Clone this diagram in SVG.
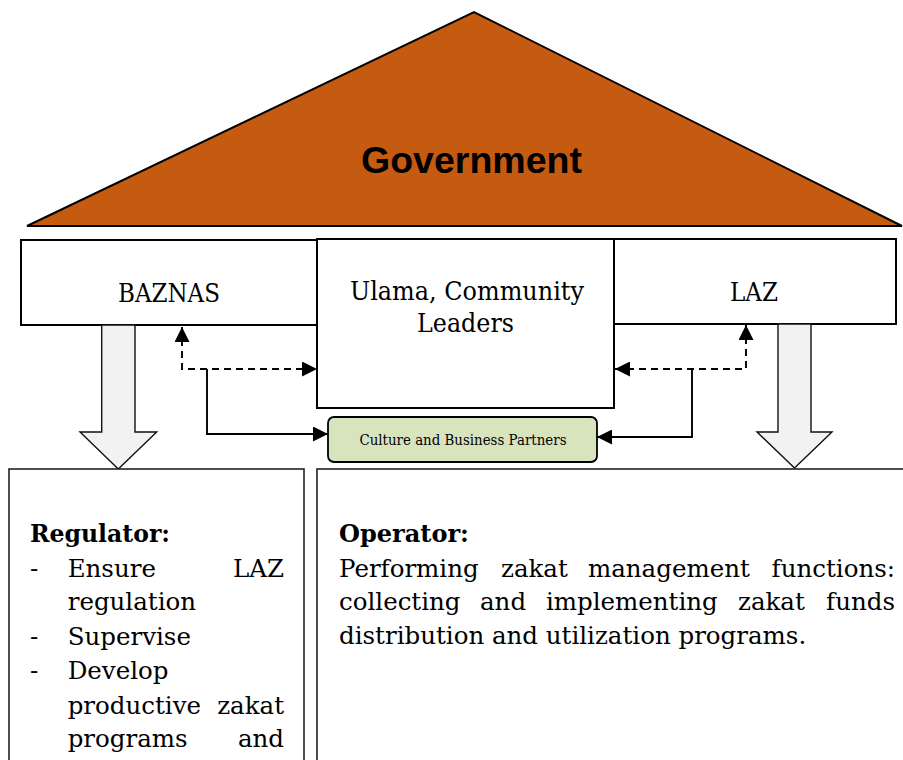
<svg xmlns="http://www.w3.org/2000/svg" width="903" height="760" viewBox="0 0 903 760">
<style>
.box{fill:#ffffff;stroke:#000000;stroke-width:2}
.pane{fill:#ffffff;stroke:#222222;stroke-width:1.6}
.blk{fill:#f2f2f2;stroke:#111111;stroke-width:1.4;stroke-linejoin:miter}
.hd{font-family:"DejaVu Serif","Liberation Serif",serif;font-size:26.5px;fill:#000}
.tx{font-family:"DejaVu Serif","Liberation Serif",serif;font-size:24.5px;fill:#000}
.bd{font-family:"DejaVu Serif","Liberation Serif",serif;font-size:24.5px;font-weight:bold;fill:#000}
.con{fill:none;stroke:#000;stroke-width:1.9}
.dash{stroke-dasharray:7,5}
</style>
<defs>
<marker id="ah" viewBox="0 0 15 15" refX="15" refY="7.5" markerWidth="15" markerHeight="15" markerUnits="userSpaceOnUse" orient="auto-start-reverse">
<path d="M0,0 L15,7.5 L0,15 z" fill="#000"/>
</marker>
</defs>

<g id="government">
<polygon points="27,226 474,12 902,226" fill="#c55a11" stroke="#000" stroke-width="2" stroke-linejoin="miter"/>
<text x="471.5" y="173" text-anchor="middle" font-family="Liberation Sans, Arial, sans-serif" font-weight="bold" font-size="36" textLength="221" lengthAdjust="spacingAndGlyphs">Government</text>
</g>

<g id="baznas">
<rect class="box" x="21" y="240" width="296" height="85"/>
<text class="hd" x="169" y="302" text-anchor="middle" textLength="102" lengthAdjust="spacingAndGlyphs">BAZNAS</text>
</g>

<g id="laz">
<rect class="box" x="614" y="239" width="282" height="85"/>
<text class="hd" x="754" y="301" text-anchor="middle" textLength="48" lengthAdjust="spacingAndGlyphs">LAZ</text>
</g>

<g id="ulama">
<rect class="box" x="317" y="239" width="297" height="169"/>
<text class="hd" x="467" y="300" text-anchor="middle" textLength="234" lengthAdjust="spacingAndGlyphs">Ulama, Community</text>
<text class="hd" x="465.5" y="332" text-anchor="middle" textLength="97" lengthAdjust="spacingAndGlyphs">Leaders</text>
</g>

<g id="culture">
<rect x="328" y="417" width="269" height="45" rx="6" ry="6" fill="#d7e4bd" stroke="#000" stroke-width="1.8"/>
<text x="463" y="444.5" text-anchor="middle" font-family="DejaVu Serif, Liberation Serif, serif" font-size="15" textLength="207" lengthAdjust="spacingAndGlyphs">Culture and Business Partners</text>
</g>

<g id="arrow-left">
<polygon class="blk" points="101.7,325 135,325 135,432 156.7,432 118.3,469 80,432 101.7,432"/>
</g>
<g id="arrow-right">
<polygon class="blk" points="778,324 811,324 811,432 832,432 794.5,468 757,432 778,432"/>
</g>

<g id="connectors">
<path class="con dash" d="M182,327 V369 H317" marker-start="url(#ah)" marker-end="url(#ah)"/>
<path class="con dash" d="M615,369 H746 V325" marker-start="url(#ah)" marker-end="url(#ah)"/>
<path class="con" d="M207,369 V434 H328" marker-end="url(#ah)"/>
<path class="con" d="M692,369 V437 H597" marker-end="url(#ah)"/>
</g>

<g id="regulator">
<rect class="pane" x="9" y="469" width="295" height="300"/>
<text class="bd" x="30" y="542" textLength="140" lengthAdjust="spacingAndGlyphs">Regulator:</text>
<text class="tx" x="30" y="577">-</text>
<text class="tx" x="67.7" y="577">Ensure</text>
<text class="tx" x="284" y="577" text-anchor="end">LAZ</text>
<text class="tx" x="67.7" y="610">regulation</text>
<text class="tx" x="30" y="645">-</text>
<text class="tx" x="67.7" y="645">Supervise</text>
<text class="tx" x="30" y="679">-</text>
<text class="tx" x="67.7" y="679">Develop</text>
<text class="tx" x="67.7" y="714">productive</text>
<text class="tx" x="284" y="714" text-anchor="end">zakat</text>
<text class="tx" x="67.7" y="747">programs</text>
<text class="tx" x="284" y="747" text-anchor="end">and</text>
</g>

<g id="operator">
<rect class="pane" x="317" y="469" width="590" height="300"/>
<text class="bd" x="339" y="542" textLength="130" lengthAdjust="spacingAndGlyphs">Operator:</text>
<text class="tx" x="339" y="577">Performing</text>
<text class="tx" x="501" y="577">zakat</text>
<text class="tx" x="588" y="577">management</text>
<text class="tx" x="895" y="577" text-anchor="end">functions:</text>
<text class="tx" x="339" y="610">collecting</text>
<text class="tx" x="480" y="610">and</text>
<text class="tx" x="546" y="610">implementing</text>
<text class="tx" x="738" y="610">zakat</text>
<text class="tx" x="895" y="610" text-anchor="end">funds</text>
<text class="tx" x="339" y="644">distribution and utilization programs.</text>
</g>
</svg>
